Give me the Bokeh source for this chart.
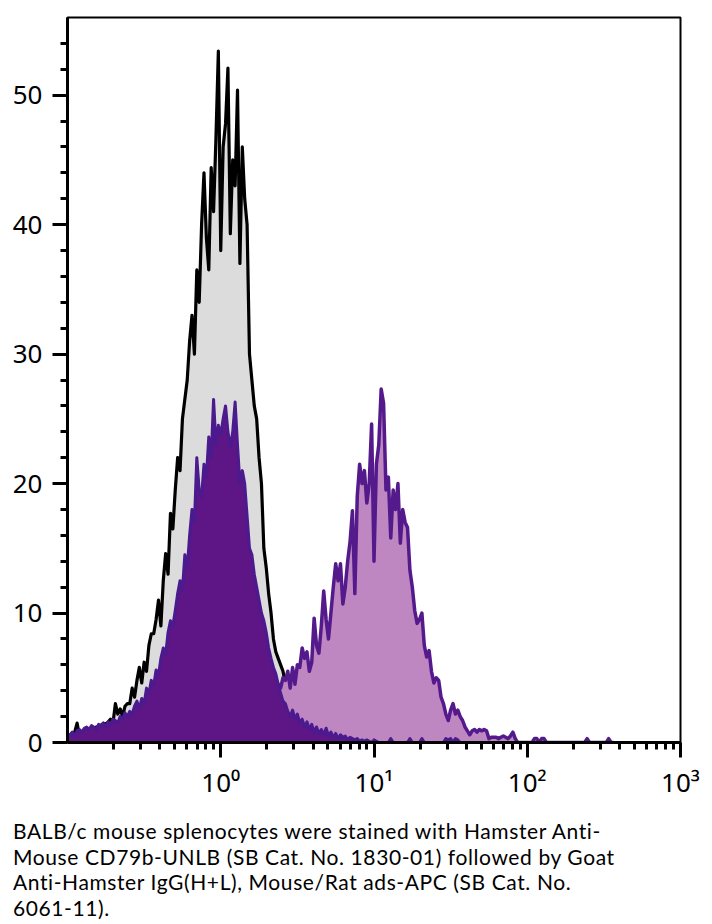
from bokeh.plotting import figure
from bokeh.models import Range1d, FixedTicker, Div
from bokeh.layouts import column
from bokeh.embed import file_html
from bokeh.resources import INLINE

# ---- data -------------------------------------------------------------
CHANNELS_PER_DECADE = 64
LOW_DECADE = -1  # channel 0 sits at 10^-1

# isotype / control histogram (grey fill, black outline), from channel 0
control_counts = [
    0.3, 0.5, 0.3, 0.8, 1.5,
    0.5, 0.7, 0.6, 0.8, 1.0,
    0.9, 1.0, 1.2, 1.1, 1.3,
    1.5, 1.4, 1.6, 1.8, 1.5,
    3.0, 2.2, 2.6, 2.0, 2.8,
    3.0, 3.0, 4.2, 3.5, 4.8,
    5.8, 4.6, 6.2, 5.5, 7.5,
    8.4, 8.4, 9.5, 11.0, 9.0,
    12.5, 14.6, 13.0, 17.7, 16.5,
    19.5, 22.0, 21.0, 25.0, 26.5,
    28.0, 31.0, 33.0, 30.0, 36.5,
    34.0, 40.0, 44.0, 39.0, 36.5,
    44.4, 41.0, 46.7, 53.4, 38.0,
    46.0, 47.8, 52.1, 39.3, 45.0,
    43.0, 50.4, 37.0, 46.0, 42.0,
    40.0, 30.0, 28.0, 26.0, 25.0,
    22.0, 20.0, 15.0, 13.5, 11.5,
    10.0, 8.0, 7.0, 6.5, 6.0,
    5.5, 4.5, 3.5, 3.5, 2.5,
    2.0, 1.5, 1.0, 0.8, 0.5,
    0.3, 0.2, 0.0,
]

# negative population (dark purple), from channel 0
negative_counts = [
    0.3, 0.6, 0.8, 0.5, 0.9,
    1.0, 0.8, 1.1, 1.2, 1.0,
    1.3, 1.2, 1.0, 1.4, 1.3,
    1.5, 1.2, 1.6, 1.4, 1.8,
    1.7, 1.5, 2.0, 1.8, 2.3,
    2.0, 2.4, 2.2, 2.8, 3.2,
    2.6, 3.4, 3.0, 4.2, 3.8,
    4.8, 4.4, 5.6, 5.2, 6.5,
    7.3, 6.8, 8.5, 9.4, 9.0,
    10.2, 11.5, 12.5, 11.8, 14.5,
    13.5, 16.0, 18.0, 17.0, 22.0,
    19.5, 19.0, 21.5, 20.5, 23.6,
    22.0, 26.5, 23.0, 24.5, 23.8,
    25.0, 26.0, 24.0, 22.8, 24.0,
    26.3, 23.0, 20.0, 21.0, 20.0,
    17.5, 15.0, 14.5, 13.0, 12.0,
    11.0, 10.0, 9.4, 8.5, 7.3,
    6.5, 5.8, 5.3, 4.5, 3.8,
    3.2, 3.0, 2.4, 2.0, 2.5,
    1.8, 2.2, 1.5, 1.8, 1.2,
    1.6, 1.0, 1.4, 0.8, 1.2,
    0.7, 1.0, 0.6, 1.1, 0.5,
    0.8, 0.4, 0.7, 0.3, 0.6,
    0.4, 0.5, 0.2, 0.4, 0.3,
    0.2, 0.3, 0.1, 0.2, 0.1,
    0.2, 0.1, 0.0, 0.2, 0.1,
    0.0, 0.0, 0.0, 0.0, 0.0,
    0.3, 0.0, 0.0, 0.0, 0.0,
    0.0, 0.0, 0.0, 0.3, 0.0,
    0.0, 0.0, 0.0, 0.3, 0.0,
    0.0, 0.0, 0.0, 0.0, 0.0,
    0.0, 0.0, 0.0, 0.3, 0.2,
    0.3, 0.0, 0.3, 0.2, 0.0,
    0.0,
]

# CD79b-stained population (light purple fill, purple outline)
stained_first_channel = 85
stained_counts = [
    3.0, 3.5, 4.0, 4.5, 4.2,
    5.0, 4.8, 5.5, 4.2, 5.8,
    4.5, 6.0, 5.8, 7.3, 6.5,
    7.0, 5.5, 6.2, 9.6, 7.5,
    6.9, 9.0, 11.7, 9.5, 8.0,
    10.0, 12.0, 13.8, 12.5, 13.8,
    10.7, 12.0, 14.0, 15.5, 17.9,
    11.5, 19.0, 21.5, 20.0, 21.0,
    18.5, 20.0, 24.6, 14.0, 21.5,
    23.0, 27.3, 26.2, 19.5, 20.5,
    15.8, 19.5, 18.0, 20.0, 15.4,
    18.0, 17.0, 16.6, 13.3, 12.0,
    10.2, 9.2, 9.5, 10.0, 7.5,
    6.6, 7.1, 5.5, 4.6, 5.0,
    4.8, 3.5, 3.0, 2.2, 1.7,
    2.5, 3.0, 2.2, 2.5, 2.0,
    1.7, 1.2, 0.9, 0.6, 0.9,
    1.0, 0.8, 1.0, 0.9, 1.0,
    0.9, 0.3, 0.4, 0.4, 0.4,
    0.3, 0.4, 0.5, 0.4, 0.3,
    0.5, 0.8, 0.3, 0.0, 0.0,
    0.0, 0.0, 0.0, 0.0, 0.0,
    0.3, 0.3, 0.0, 0.3, 0.3,
    0.0, 0.0, 0.0, 0.0, 0.0,
    0.0, 0.0, 0.0, 0.0, 0.0,
    0.0, 0.0, 0.0, 0.0, 0.0,
    0.0, 0.0, 0.3, 0.0, 0.0,
    0.0, 0.0, 0.0, 0.0, 0.0,
    0.0, 0.3, 0.0, 0.0,
]

x_ticks = [1, 10, 100, 1000]
x_tick_labels = ["10\u2070", "10\u00b9", "10\u00b2", "10\u00b3"]
y_ticks = [0, 10, 20, 30, 40, 50]
y_minor_ticks = [2, 4, 6, 8, 12, 14, 16, 18, 22, 24, 26, 28, 32, 34, 36, 38,
                 42, 44, 46, 48, 52, 54]

caption = ("BALB/c mouse splenocytes were stained with Hamster Anti-<br>"
           "Mouse CD79b-UNLB (SB Cat. No. 1830-01) followed by Goat<br>"
           "Anti-Hamster IgG(H+L), Mouse/Rat ads-APC (SB Cat. No.<br>"
           "6061-11).")


def channel_x(first, n):
    return [10 ** (LOW_DECADE + (first + i) / CHANNELS_PER_DECADE) for i in range(n)]


x_minor = [m * 10 ** e for e in range(-1, 3) for m in range(2, 10)]

# ---- figure -----------------------------------------------------------
p = figure(width=708, height=808, x_axis_type="log",
           x_range=Range1d(0.1, 1000), y_range=Range1d(0, 56),
           output_backend="svg", toolbar_location=None)
p.min_border_left = 67
p.min_border_right = 28
p.min_border_top = 17
p.min_border_bottom = 66
p.grid.visible = False
p.outline_line_color = "black"
p.outline_line_width = 2
p.background_fill_color = "white"
p.border_fill_color = "white"

cx = channel_x(0, len(control_counts))
p.varea(x=cx, y1=0, y2=control_counts, fill_color="#dcdcdc")
p.line(cx, control_counts, line_color="black", line_width=3.2, line_join="round")

sx = channel_x(stained_first_channel, len(stained_counts))
p.varea(x=sx, y1=0, y2=stained_counts, fill_color="#bf87c2")
p.line(sx, stained_counts, line_color="#541a8c", line_width=3.5, line_join="round")

nx = channel_x(0, len(negative_counts))
p.varea(x=nx, y1=0, y2=negative_counts, fill_color="#5e1586")
p.line(nx, negative_counts, line_color="#4a1a8e", line_width=3, line_join="round")

for ax in (p.xaxis[0], p.yaxis[0]):
    ax.axis_line_width = 3
    ax.axis_line_color = "black"
    ax.major_tick_line_width = 3
    ax.minor_tick_line_width = 3
    ax.major_tick_in = 0
    ax.major_tick_out = 15
    ax.minor_tick_in = 0
    ax.minor_tick_out = 7
    ax.major_label_text_font = "Noto Sans"
    ax.major_label_text_font_size = "26px"
    ax.major_label_text_color = "black"

p.xaxis.ticker = FixedTicker(ticks=x_ticks, minor_ticks=x_minor)
p.xaxis.major_label_overrides = {t: lab for t, lab in zip(x_ticks, x_tick_labels)}
p.xaxis.major_label_standoff = 6
p.yaxis.ticker = FixedTicker(ticks=y_ticks, minor_ticks=y_minor_ticks)
p.yaxis.major_label_standoff = 10

div = Div(text=caption, width=700, margin=(10, 0, 0, 13),
          styles={"font-family": "Lato", "font-size": "21px",
                  "line-height": "25.5px", "letter-spacing": "0.6px",
                  "color": "black"})

layout = column(p, div)
open("out.html", "w").write(file_html(layout, INLINE))
